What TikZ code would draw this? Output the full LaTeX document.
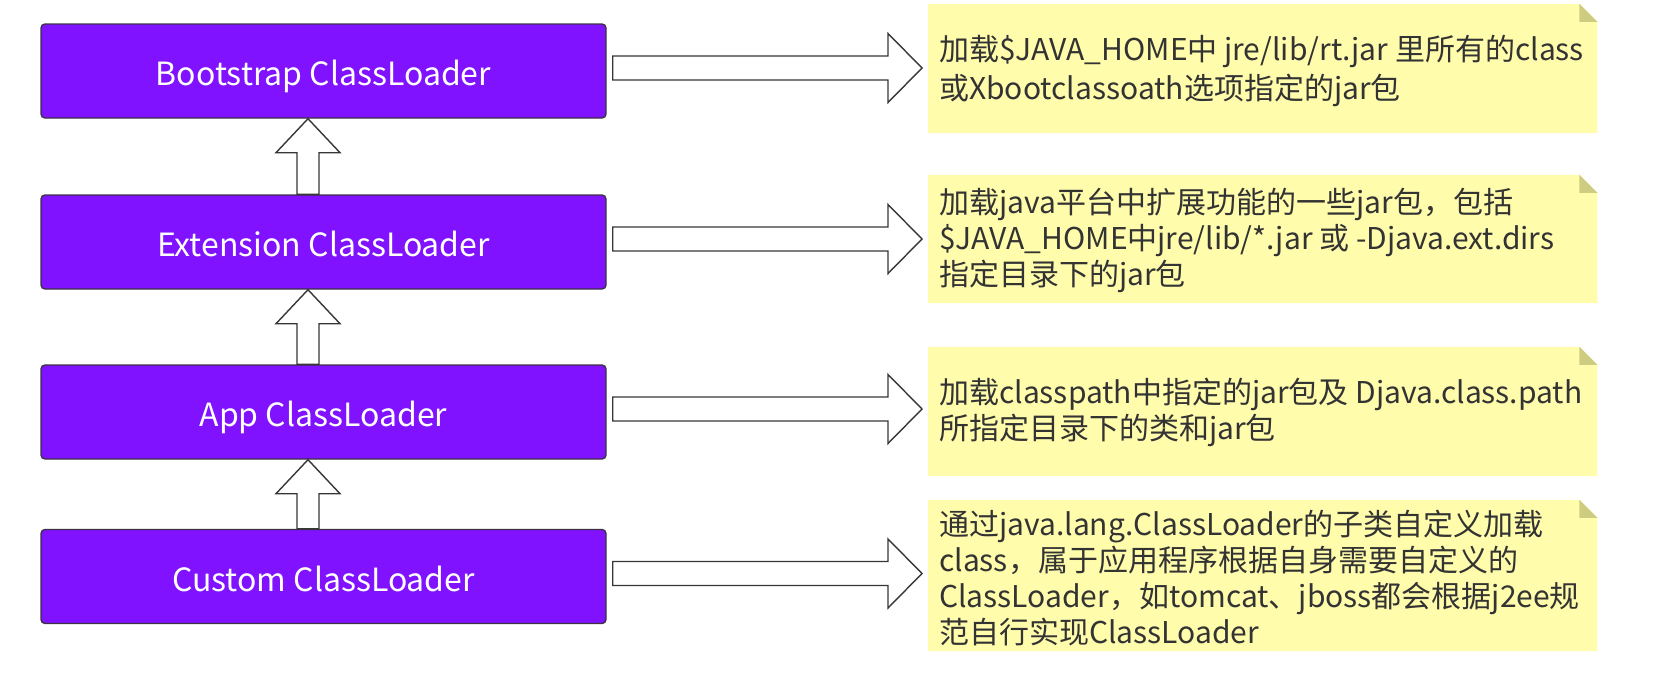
\documentclass[tikz,border=0pt]{standalone}
\usepackage{fontspec}
\setmainfont{Noto Sans CJK SC}
\usetikzlibrary{calc}
\definecolor{boxpurple}{RGB}{128,18,255}
\definecolor{boxborder}{RGB}{60,50,70}
\definecolor{notefill}{RGB}{255,252,172}
\definecolor{notefold}{RGB}{206,204,128}
\definecolor{notetext}{RGB}{51,51,51}
\definecolor{arrowline}{RGB}{55,55,55}
\tikzset{
  loader/.style={draw=boxborder, line width=1.4pt, fill=boxpurple, rounded corners=4pt,
    minimum width=565pt, minimum height=94pt, inner sep=0pt,
    text height=29pt, text depth=0pt,
    text=white, font=\fontsize{32pt}{38pt}\selectfont},
  notebg/.style={minimum width=669pt, inner sep=0pt, draw=none},
  notetxt/.style={anchor=west, align=left, inner sep=0pt, text=notetext,
    font=\fontsize{30pt}{36pt}\selectfont},
  fatarrow/.style={draw=arrowline, line width=1.4pt, fill=white, line join=miter}
}
\newcommand\notebox[1]{%
  \fill[notefill] (#1.south west) -- (#1.north west) -- ($(#1.north east)+(-18,0)$)
    -- ($(#1.north east)+(0,18)$) -- (#1.south east) -- cycle;
  \fill[notefold] ($(#1.north east)+(-18,0)$) -- ($(#1.north east)+(-18,18)$)
    -- ($(#1.north east)+(0,18)$) -- cycle;}
\newcommand\rightfat[2]{%
  \draw[fatarrow] ($(#1)+(0,-12)$) -- ($(#2)+(-34,-12)$) -- ($(#2)+(-34,-34.5)$)
    -- (#2) -- ($(#2)+(-34,34.5)$) -- ($(#2)+(-34,12)$) -- ($(#1)+(0,12)$) -- cycle;}
\newcommand\upfat[2]{%
  \draw[fatarrow] ($(#1)+(-11,0)$) -- ($(#2)+(-11,34)$) -- ($(#2)+(-32,34)$)
    -- (#2) -- ($(#2)+(32,34)$) -- ($(#2)+(11,34)$) -- ($(#1)+(11,0)$) -- cycle;}
\begin{document}
\begin{tikzpicture}[x=1pt,y=-1pt]
\useasboundingbox[fill=white] (0,0) rectangle (1670,672);
% loader boxes
\node[loader] (b1) at (323.5,71) {Bootstrap ClassLoader};
\node[loader] (b2) at (323.5,242) {Extension ClassLoader};
\node[loader] (b3) at (323.5,412) {App ClassLoader};
\node[loader] (b4) at (323.5,576.5) {Custom ClassLoader};
% note backgrounds
\node[notebg, minimum height=129pt, anchor=west] (n1) at (928,68.5) {};
\node[notebg, minimum height=128pt, anchor=west] (n2) at (928,239) {};
\node[notebg, minimum height=129pt, anchor=west] (n3) at (928,411.5) {};
\node[notebg, minimum height=151pt, anchor=west] (n4) at (928,575.5) {};
\notebox{n1}\notebox{n2}\notebox{n3}\notebox{n4}
% note texts
\node[notetxt, font=\fontsize{30pt}{39pt}\selectfont] (t1) at ($(n1.west)+(11,2)$) {加载\$JAVA\_HOME中 jre/lib/rt.jar 里所有的class\\或Xbootclassoath选项指定的jar包};
\node[notetxt] (t2) at ($(n2.west)+(11,1)$) {加载java平台中扩展功能的一些jar包，包括\\\$JAVA\_HOME中jre/lib/*.jar 或 -Djava.ext.dirs\\指定目录下的jar包};
\node[notetxt] (t3) at ($(n3.west)+(11,1)$) {加载classpath中指定的jar包及 Djava.class.path\\所指定目录下的类和jar包};
\node[notetxt] (t4) at ($(n4.west)+(11,3)$) {通过java.lang.ClassLoader的子类自定义加载\\class，属于应用程序根据自身需要自定义的\\ClassLoader，如tomcat、jboss都会根据j2ee规\\范自行实现ClassLoader};
% up arrows
\coordinate (ax) at (308,0);
\coordinate (u1s) at (ax |- b2.north); \coordinate (u1e) at (ax |- b1.south);
\coordinate (u2s) at (ax |- b3.north); \coordinate (u2e) at (ax |- b2.south);
\coordinate (u3s) at (ax |- b4.north); \coordinate (u3e) at (ax |- b3.south);
\upfat{u1s}{u1e}
\upfat{u2s}{u2e}
\upfat{u3s}{u3e}
% right arrows
\foreach \i in {1,2,3,4}{
  \coordinate (s\i) at ($(b\i.east)+(6,-3)$);
  \coordinate (e\i) at ($(n\i.west |- s\i)+(-6,0)$);
  \rightfat{s\i}{e\i}
}
\end{tikzpicture}
\end{document}
